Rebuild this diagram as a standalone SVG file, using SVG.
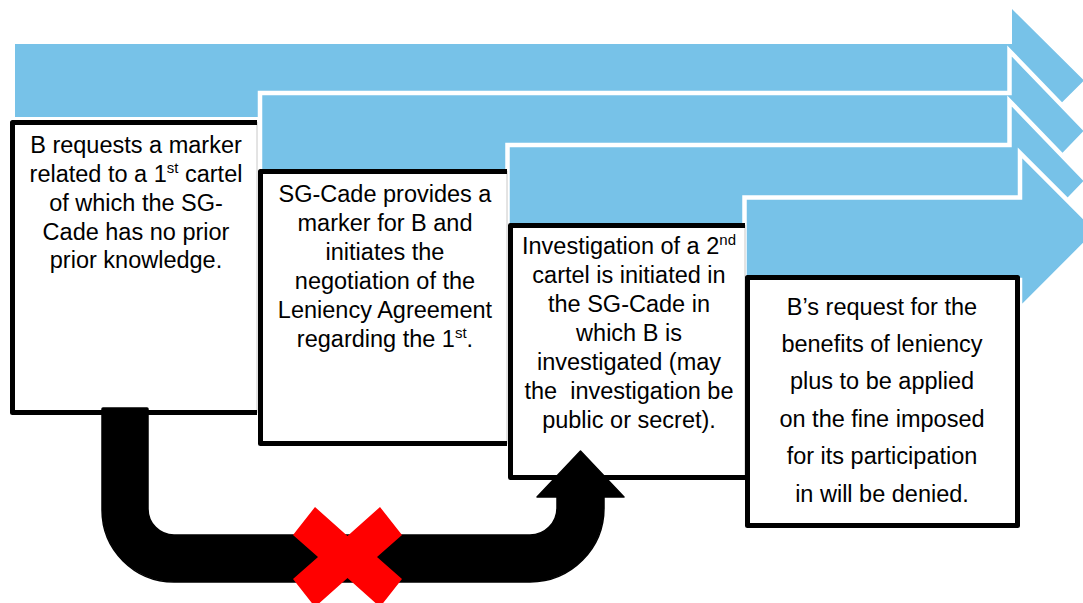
<svg xmlns="http://www.w3.org/2000/svg" width="1083" height="603" viewBox="0 0 1083 603">
<style>
.arr{fill:#77c2e8;stroke:#ffffff;stroke-width:4.5;stroke-linejoin:miter}
.bx{fill:#ffffff;stroke:#c8c8c8;stroke-width:1}
.bd{fill:none;stroke:#000000;stroke-width:5;stroke-linejoin:round}
.t{font-family:"Liberation Sans",Arial,sans-serif;font-size:23.5px;fill:#000000;text-anchor:middle}
.sup{font-size:15px}
</style>
<rect width="1083" height="603" fill="#ffffff"/>
<g id="timeline">
<path class="arr" style="stroke:none" d="M15,44 H1012 V9 L1084,80.5 L1012,152 V117 H15 Z"/>
<path class="arr" d="M260,93 H1009.5 V51 L1086.5,131 L1009.5,211 V174 H260 Z"/>
<path class="arr" d="M507.5,145 H1009.5 V101 L1086.5,181 L1009.5,261 V228 H507.5 Z"/>
<path class="arr" d="M744.5,197.5 H1020 V153 L1098,231 L1020,309 V280 H744.5 Z"/>
</g>
<g id="box1">
<rect class="bx" x="12.5" y="122.5" width="244.5" height="290"/>
<path class="bd" d="M257,122.5 H12.5 V412.5 H257"/>
<text class="t" x="136" y="153">B requests a marker</text>
<text class="t" x="136" y="182">related to a 1<tspan class="sup" dy="-9">st</tspan><tspan dy="9"> cartel</tspan></text>
<text class="t" x="136" y="211">of which the SG-</text>
<text class="t" x="136" y="240">Cade has no prior</text>
<text class="t" x="136" y="268">prior knowledge.</text>
</g>
<g id="box2">
<rect class="bx" x="260.5" y="171.5" width="246.5" height="272"/>
<path class="bd" d="M507,171.5 H260.5 V443.5 H507"/>
<text class="t" x="385" y="202">SG-Cade provides a</text>
<text class="t" x="385" y="231">marker for B and</text>
<text class="t" x="385" y="260">initiates the</text>
<text class="t" x="385" y="289">negotiation of the</text>
<text class="t" x="385" y="318">Leniency Agreement</text>
<text class="t" x="385" y="347">regarding the 1<tspan class="sup" dy="-9">st</tspan><tspan dy="9">.</tspan></text>
</g>
<g id="box3">
<rect class="bx" x="510.5" y="225.5" width="234.5" height="252"/>
<path class="bd" d="M745,225.5 H510.5 V477.5 H745"/>
<text class="t" x="629" y="254">Investigation of a 2<tspan class="sup" dy="-9">nd</tspan></text>
<text class="t" x="629" y="283">cartel is initiated in</text>
<text class="t" x="629" y="312">the SG-Cade in</text>
<text class="t" x="629" y="341">which B is</text>
<text class="t" x="629" y="370">investigated (may</text>
<text class="t" x="629" y="399" xml:space="preserve">the  investigation be</text>
<text class="t" x="629" y="428">public or secret).</text>
</g>
<g id="box4">
<rect class="bx" x="747.5" y="277.5" width="270" height="248"/>
<rect class="bd" x="747.5" y="277.5" width="270" height="248"/>
<text class="t" x="882" y="315">B’s request for the</text>
<text class="t" x="882" y="352">benefits of leniency</text>
<text class="t" x="882" y="389">plus to be applied</text>
<text class="t" x="882" y="427">on the fine imposed</text>
<text class="t" x="882" y="464">for its participation</text>
<text class="t" x="882" y="502">in will be denied.</text>
</g>
<g id="connectors">
<path d="M102,409 Q102,408 103,408 H147 Q148,408 148,409 V509 A26,26 0 0 0 174,535 H530 A27,27 0 0 0 557,508 V497 H537 L580.5,451 L624,497 H604 V508 A74,74 0 0 1 530,582 H174 A72,72 0 0 1 102,510 Z" fill="#000000" stroke="#000000" stroke-width="1.5" stroke-linejoin="round"/>
<polygon points="347.5,536 380,507 402,535 377,557 402,579 380,607 347.5,578 315,607 293,579 318,557 293,535 315,507" fill="#ff0000"/>
</g>
</svg>
